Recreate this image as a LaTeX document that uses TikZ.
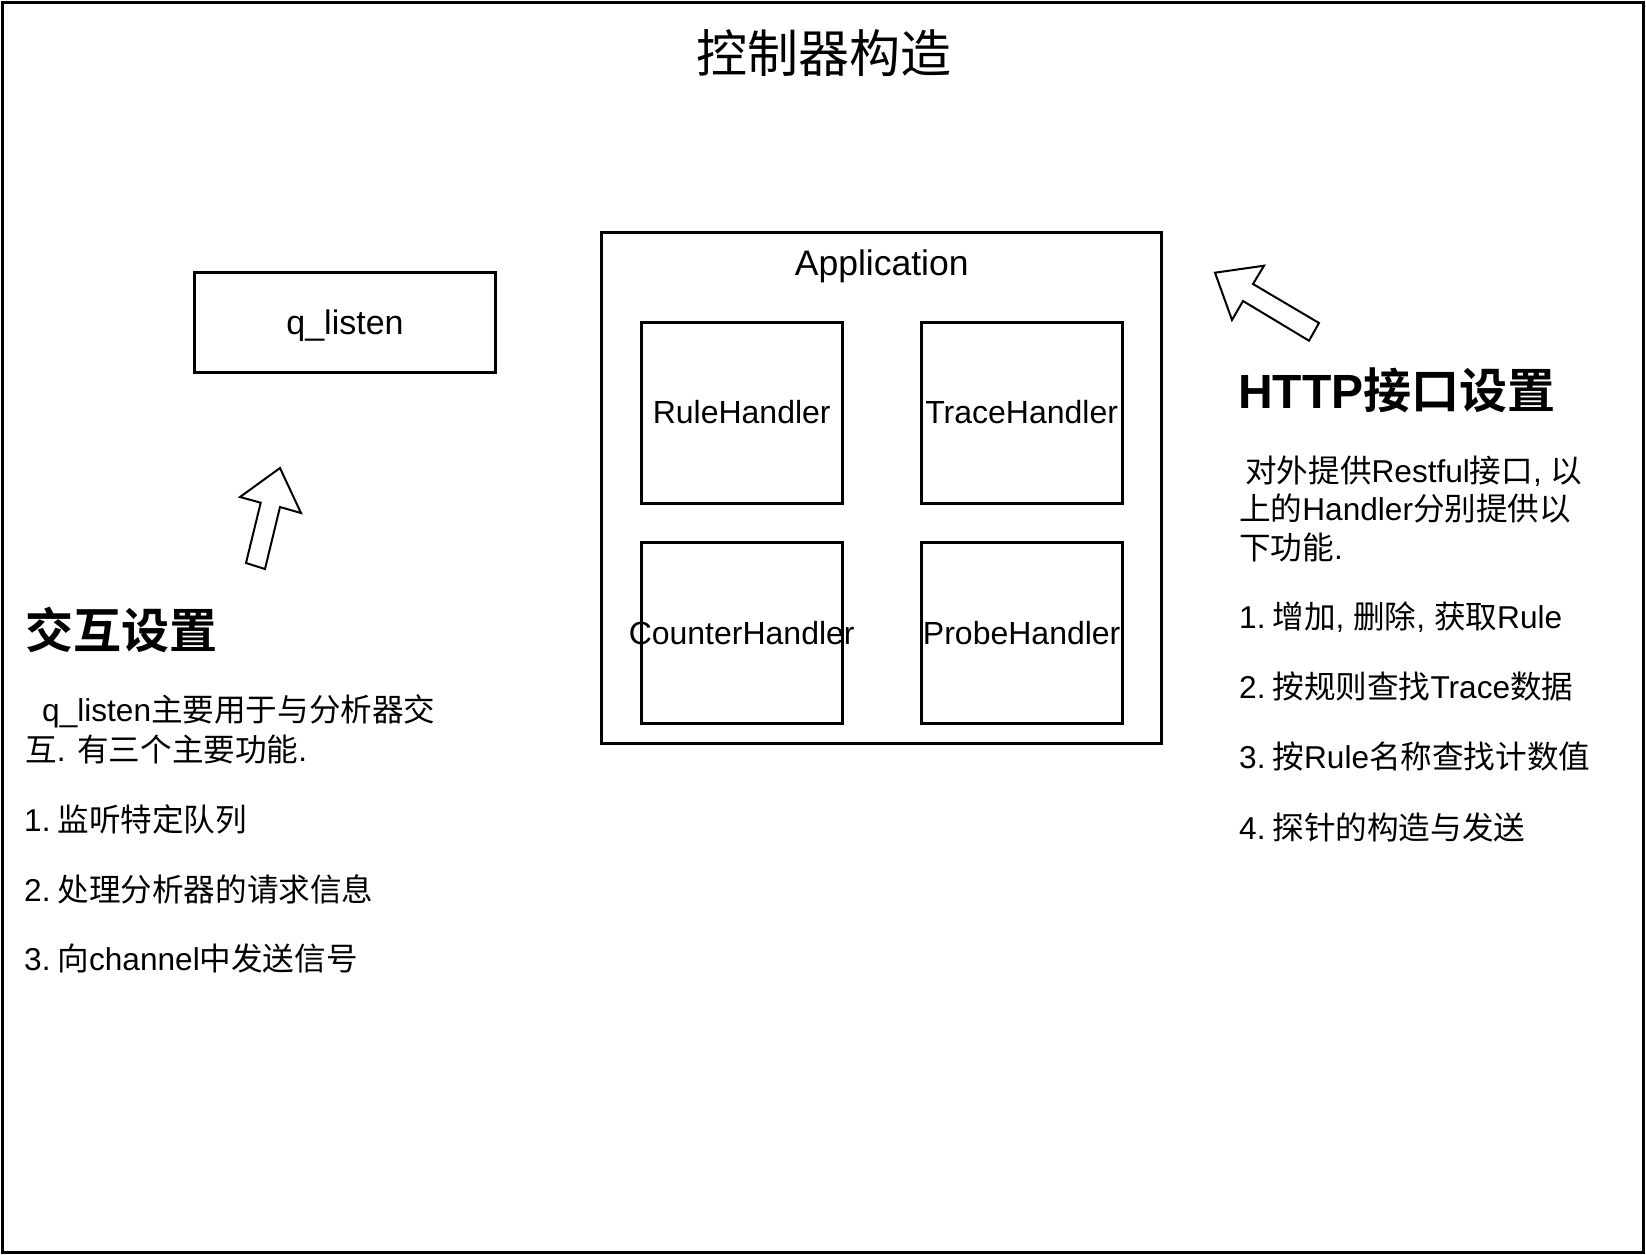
\documentclass[tikz,border=0pt]{standalone}
\usepackage{fontspec}
\setmainfont{Liberation Sans}
\newfontfamily\cjk{Noto Sans CJK SC}[BoldFont={* Bold}]
\newcommand{\zh}[1]{{\cjk #1}}
\newcommand{\gap}{\hspace{0.22em}}
\usetikzlibrary{positioning}

\begin{document}
\begin{tikzpicture}[
  x=1pt, y=-1pt,
  frame/.style={draw, line width=3pt},
  hbox/.style={draw, line width=3pt, minimum width=200.6pt,
               minimum height=181pt, inner sep=0pt, outer sep=0pt},
  hlabel/.style={inner sep=0pt, font=\fontsize{32}{38}\selectfont},
  note/.style={anchor=west, inner sep=0pt, font=\fontsize{31.6}{38}\selectfont},
  head/.style={anchor=west, inner sep=0pt, font=\fontsize{48}{56}\selectfont\bfseries},
  blockarrow/.style={draw, line width=2pt, fill=white, line join=miter}
]
  \useasboundingbox (0,0) rectangle (1646,1254);
  \draw[frame] (2,2) rectangle (1643,1252);

  \node[font=\fontsize{51}{60}\selectfont] (title) at (824,53.5) {\zh{控制器构造}};

  \node[draw, line width=3pt, minimum width=301pt, minimum height=100pt,
        text height=31pt, text depth=7pt,
        font=\fontsize{34}{40}\selectfont] (qlisten) at (345,322.8) {q\_listen};

  \node[draw, line width=3pt, minimum width=560.5pt, minimum height=511pt,
        outer sep=0pt] (app) at (881.7,487.5) {};
  \node[font=\fontsize{35.5}{42}\selectfont, inner sep=0pt]
    (apptitle) at ([yshift=-34.5pt]app.north) {Application};

  \node[hbox, label={[hlabel]center:RuleHandler}] (rule) at (741.7,412.5) {};
  \node[hbox, label={[hlabel]center:TraceHandler}, right=79.4pt of rule] (trace) {};
  \node[hbox, label={[hlabel]center:CounterHandler}, below=39.7pt of rule] (counter) {};
  \node[hbox, label={[hlabel]center:ProbeHandler}, right=79.4pt of counter] (probe) {};

  \draw[blockarrow] (280,468) -- (301,513) -- (280,507) -- (265,569)
    -- (246,563) -- (260.7,502.7) -- (240,497) -- cycle;
  \draw[blockarrow] (1215,272.7) -- (1264,265.7) -- (1253,284) -- (1319,323)
    -- (1309,340.7) -- (1243,301) -- (1232,320) -- cycle;

  \node[head] (lhead) at (25,630) {\zh{交互设置}};
  \node[note] (l1) at (42,711) {q\_listen\zh{主要用于与分析器交}};
  \node[note] (l2) at (25,749.5) {\zh{互}. \zh{有三个主要功能}.};
  \node[note] (l3) at (24,819) {1.\gap\zh{监听特定队列}};
  \node[note] (l4) at (24,889) {2.\gap\zh{处理分析器的请求信息}};
  \node[note] (l5) at (24,958) {3.\gap\zh{向}channel\zh{中发送信号}};

  \node[head] (rhead) at (1238,390.5) {HTTP\zh{接口设置}};
  \node[note] (r1) at (1245,471) {\zh{对外提供}Restful\zh{接口}, \zh{以}};
  \node[note] (r2) at (1239,509) {\zh{上的}Handler\zh{分别提供以}};
  \node[note] (r3) at (1239,547) {\zh{下功能}.};
  \node[note] (r4) at (1239,617) {1.\gap\zh{增加}, \zh{删除}, \zh{获取}Rule};
  \node[note] (r5) at (1239,686.5) {2.\gap\zh{按规则查找}Trace\zh{数据}};
  \node[note] (r6) at (1239,756) {3.\gap\zh{按}Rule\zh{名称查找计数值}};
  \node[note] (r7) at (1239,827) {4.\gap\zh{探针的构造与发送}};
\end{tikzpicture}
\end{document}
